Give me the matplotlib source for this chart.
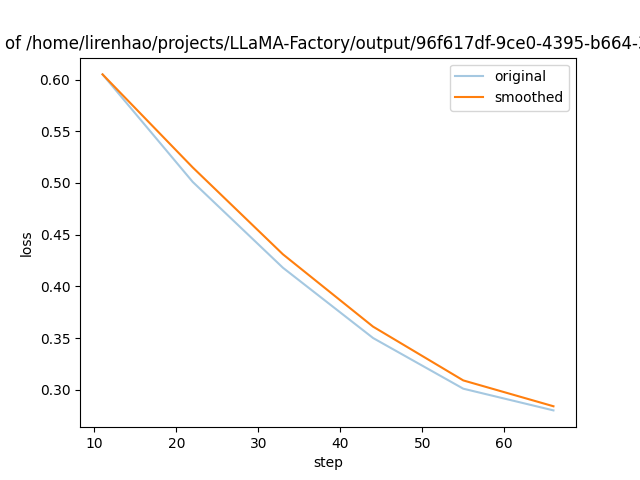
import matplotlib
matplotlib.use("Agg")
import matplotlib.pyplot as plt

# training loss log
steps = [11, 22, 33, 44, 55, 66]
loss_original = [0.605, 0.501, 0.418, 0.350, 0.301, 0.280]
loss_smoothed = [0.605, 0.515, 0.431, 0.361, 0.309, 0.284]
run_dir = "/home/lirenhao/projects/LLaMA-Factory/output/96f617df-9ce0-4395-b664-3a1c2e5d7f90"

fig = plt.figure(figsize=(6.4, 4.8), dpi=100)
plt.plot(steps, loss_original, color="#1f77b4", alpha=0.4, label="original")
plt.plot(steps, loss_smoothed, color="#ff7f0e", label="smoothed")
plt.title("training loss of {}".format(run_dir))
plt.xlabel("step")
plt.ylabel("loss")
plt.legend()
fig.savefig("out.png", dpi=100)
